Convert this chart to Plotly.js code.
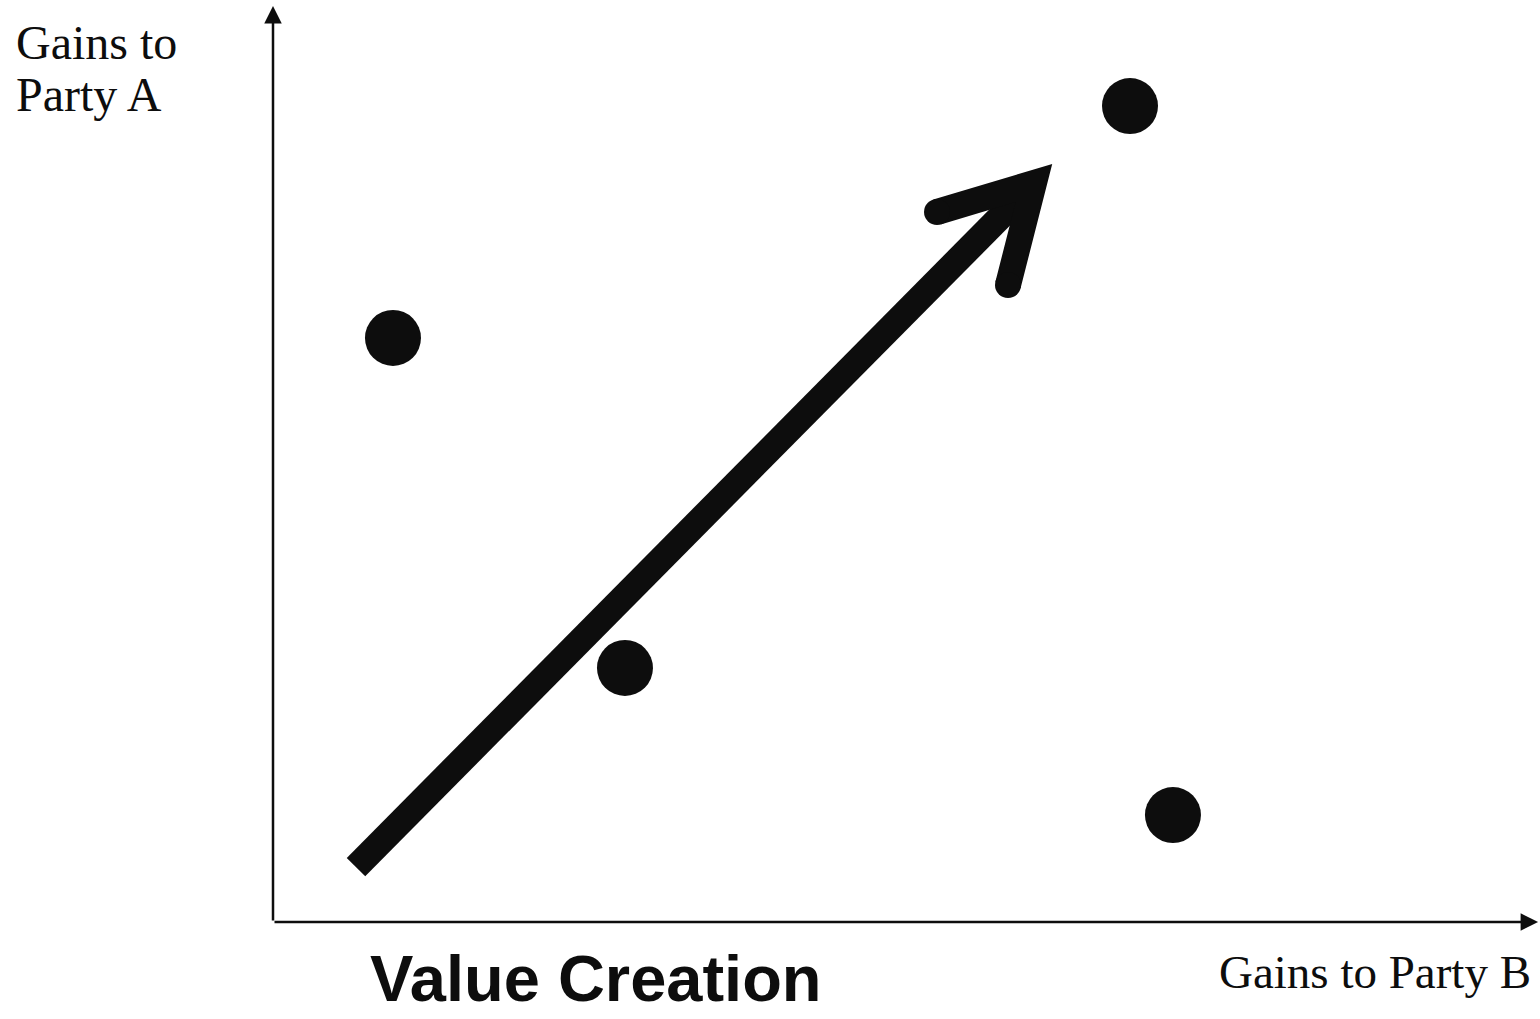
<!DOCTYPE html>
<html>
<head>
<meta charset="utf-8">
<script src="https://cdn.plot.ly/plotly-3.0.1.min.js"></script>
<style>html,body{margin:0;padding:0;background:#fff;}#chart{width:1540px;height:1019px;}</style>
</head>
<body>
<div id="chart"></div>
<script>
// Outcome points (gains to Party B on x, gains to Party A on y), in arbitrary units 0-100
const outcomeB = [9.47, 27.78, 67.64, 71.03];
const outcomeA = [63.76, 27.73, 89.08, 11.68];

// Value-creation arrow: shaft start/end and head (left arm, tip, right arm)
const shaftB = [6.55, 60.06];
const shaftA = [6.00, 80.68];
const headB = [52.41, 60.06, 58.01];
const headA = [77.51, 80.68, 69.54];

const axisLabelA = ["Gains to", "Party A"];
const axisLabelB = "Gains to Party B";
const chartTitle = "Value Creation";

const ink = "#0d0d0d";
const serif = "Liberation Serif, Times New Roman, serif";

const traces = [
  {x: shaftB, y: shaftA, mode: "lines", line: {color: ink, width: 26}, hoverinfo: "skip"},
  {x: headB, y: headA, mode: "lines", line: {color: ink, width: 26}, hoverinfo: "skip"},
  {x: [headB[0], headB[2]], y: [headA[0], headA[2]], mode: "markers",
   marker: {color: ink, size: 26}, hoverinfo: "skip"},
  {x: outcomeB, y: outcomeA, mode: "markers", marker: {color: ink, size: 56}, hoverinfo: "skip"}
];

const px = v => (v - 273) / 1267;
const py = v => (922 - v) / 916;

const layout = {
  width: 1540, height: 1019,
  margin: {l: 273, r: 0, t: 6, b: 97},
  paper_bgcolor: "#fff", plot_bgcolor: "#fff",
  showlegend: false,
  xaxis: {range: [0, 100], showgrid: false, zeroline: false, showticklabels: false, ticks: "", showline: false, fixedrange: true},
  yaxis: {range: [0, 100], showgrid: false, zeroline: false, showticklabels: false, ticks: "", showline: false, fixedrange: true},
  annotations: [
    // axes with arrowheads
    {x: 0, y: 100, ax: 0, ay: 0, xref: "x", yref: "y", axref: "x", ayref: "y", text: "",
     showarrow: true, arrowhead: 2, arrowsize: 1.4, arrowwidth: 2.5, arrowcolor: ink},
    {x: 99.85, y: 0, ax: 0, ay: 0, xref: "x", yref: "y", axref: "x", ayref: "y", text: "",
     showarrow: true, arrowhead: 2, arrowsize: 1.4, arrowwidth: 2.5, arrowcolor: ink},
    // labels
    {xref: "paper", yref: "paper", x: px(14), y: py(14), xanchor: "left", yanchor: "top",
     text: axisLabelA[0], showarrow: false, font: {family: serif, size: 48, color: ink}},
    {xref: "paper", yref: "paper", x: px(14), y: py(66), xanchor: "left", yanchor: "top",
     text: axisLabelA[1], showarrow: false, font: {family: serif, size: 48, color: ink}},
    {xref: "paper", yref: "paper", x: px(1533), y: py(944), xanchor: "right", yanchor: "top",
     text: axisLabelB, showarrow: false, font: {family: serif, size: 47, color: ink}},
    {xref: "paper", yref: "paper", x: px(596), y: py(940), xanchor: "center", yanchor: "top",
     text: "<b>" + chartTitle + "</b>", showarrow: false, font: {family: "Liberation Sans, Arial, sans-serif", size: 65, color: ink}}
  ]
};

Plotly.newPlot("chart", traces, layout, {displayModeBar: false, staticPlot: true}).then(gd => {
  gd.querySelectorAll(".scatterlayer path.js-line").forEach(p => {
    p.style.strokeLinejoin = "miter";
    p.style.strokeMiterlimit = "10";
  });
});
</script>
</body>
</html>
